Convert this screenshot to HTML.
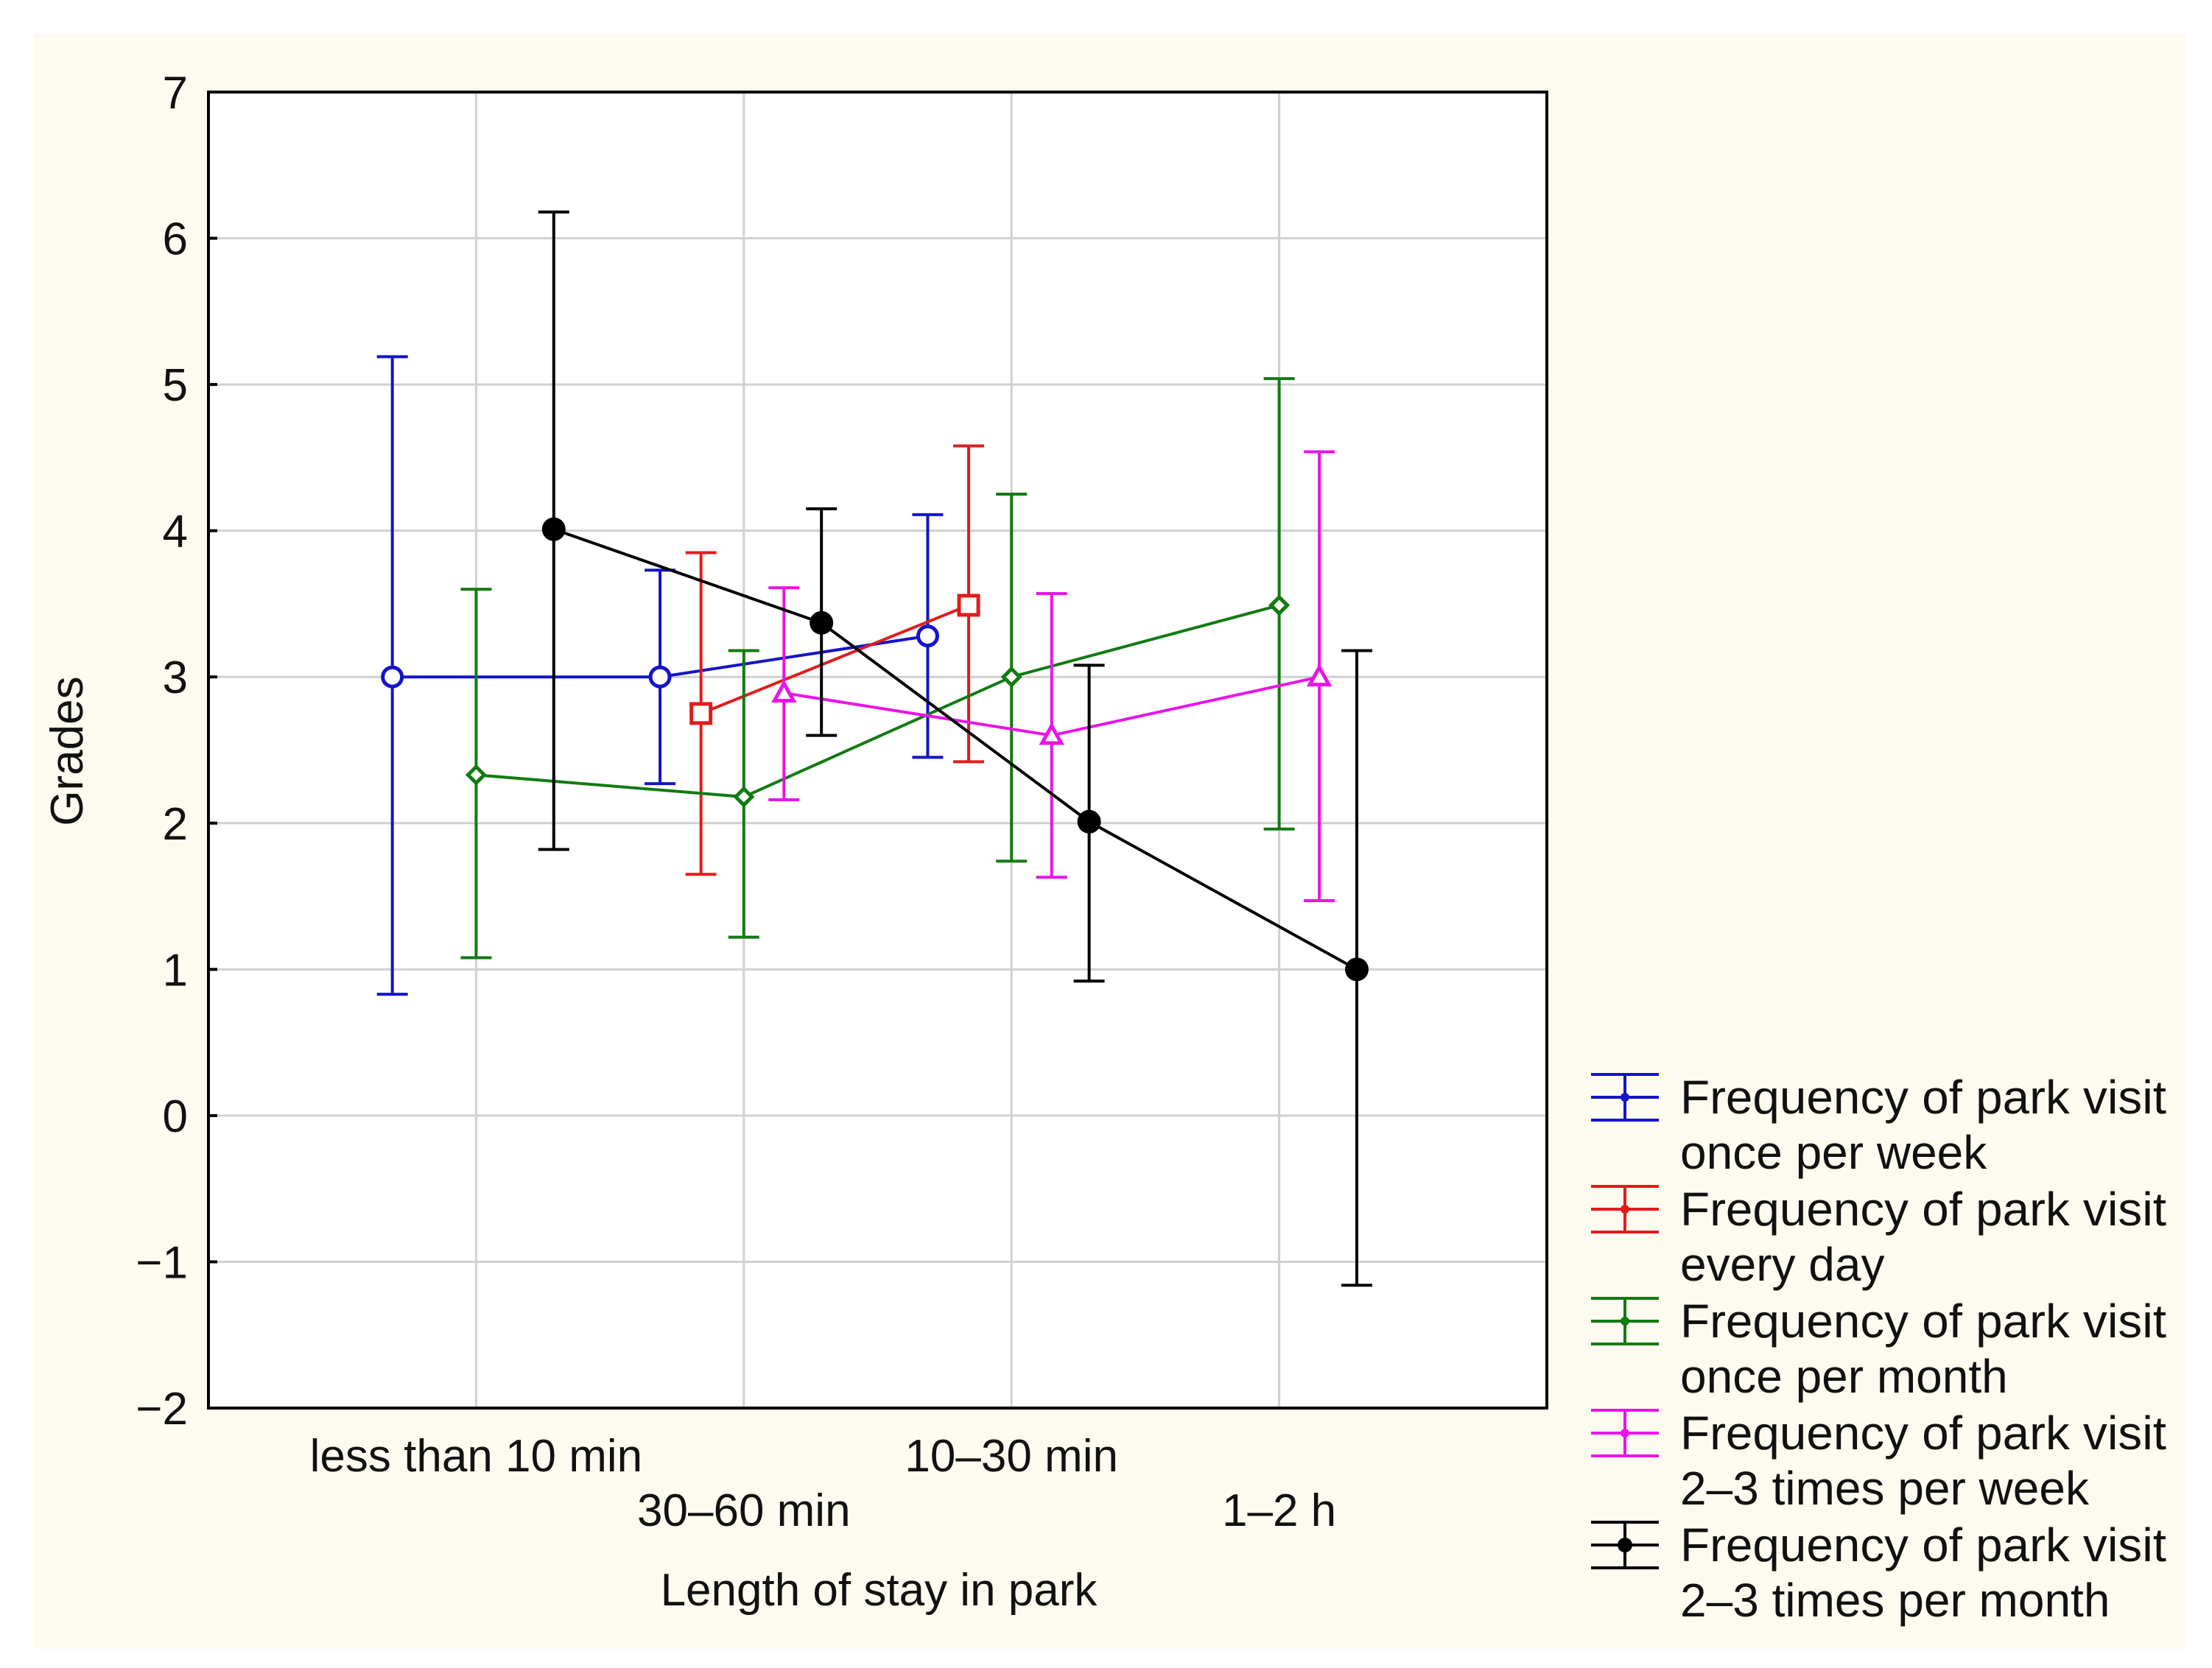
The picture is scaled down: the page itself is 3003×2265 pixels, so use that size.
<!DOCTYPE html>
<html><head><meta charset="utf-8"><style>
html,body{margin:0;padding:0;background:#fff;}
svg{display:block;font-family:"Liberation Sans",sans-serif;}
</style></head><body>
<svg id="chart" width="3003" height="2265" viewBox="0 0 3003 2265">
<rect x="46" y="46" width="2922" height="2193" fill="#fdfbf0"/>
<rect x="283" y="125" width="1817" height="1787" fill="#fff"/>
<g id="grid"></g><g id="series"></g>
<rect x="283" y="125" width="1817" height="1787" fill="none" stroke="#000" stroke-width="4"/>
<g id="axes"></g><g id="legend"></g>
<text x="112" y="1020" font-size="62" text-anchor="middle" transform="rotate(-90 112 1020)" fill="#111">Grades</text>
<text x="1193" y="2180" font-size="62" text-anchor="middle" fill="#111">Length of stay in park</text>
</svg>
<script>
const categories = ["less than 10 min","30–60 min","10–30 min","1–2 h"];
const yTicks = [7,6,5,4,3,2,1,0,-1,-2];
const seriesNames = ["Frequency of park visit|once per week","Frequency of park visit|every day","Frequency of park visit|once per month","Frequency of park visit|2–3 times per week","Frequency of park visit|2–3 times per month"];
const weeklyMean = [3.0,3.0,3.28,null];
const weeklyLow = [0.83,2.27,2.45,null];
const weeklyHigh = [5.19,3.73,4.11,null];
const dailyMean = [null,2.75,3.49,null];
const dailyLow = [null,1.65,2.42,null];
const dailyHigh = [null,3.85,4.58,null];
const monthlyMean = [2.33,2.18,3.0,3.49];
const monthlyLow = [1.08,1.22,1.74,1.96];
const monthlyHigh = [3.6,3.18,4.25,5.04];
const twiceWeekMean = [null,2.89,2.6,3.0];
const twiceWeekLow = [null,2.16,1.63,1.47];
const twiceWeekHigh = [null,3.61,3.57,4.54];
const twiceMonthMean = [4.01,3.37,2.01,1.0];
const twiceMonthLow = [1.82,2.6,0.92,-1.16];
const twiceMonthHigh = [6.18,4.15,3.08,3.18];

const NS="http://www.w3.org/2000/svg";
const L=283,R=2100,T=125,B=1912;
function xs(i,off){return L+(i+1+off)*(R-L)/5;}
function ys(v){return T+(7-v)*(B-T)/9;}
function mk(tag,attrs,parent){const e=document.createElementNS(NS,tag);for(const k in attrs)e.setAttribute(k,attrs[k]);parent.appendChild(e);return e;}
const grid=document.getElementById('grid'),axes=document.getElementById('axes'),ser=document.getElementById('series'),leg=document.getElementById('legend');
yTicks.forEach(v=>{
  if(v<7&&v>-2){const g=mk('line',{x1:L,x2:R,y1:ys(v),y2:ys(v),stroke:'#d0d0d0','stroke-width':3},grid);
  
  }
  const t=mk('text',{x:255,y:ys(v)+22,'font-size':62,'text-anchor':'end',fill:'#111'},axes);
  t.textContent=String(v).replace('-','−');
  
  
  const tk=mk('line',{x1:L,x2:L+12,y1:ys(v),y2:ys(v),stroke:'#000','stroke-width':4},axes);
  
  
});
categories.forEach((c,i)=>{
  const g=mk('line',{x1:xs(i,0),x2:xs(i,0),y1:T,y2:B,stroke:'#d0d0d0','stroke-width':3},grid);
  
  
  const t=mk('text',{x:xs(i,0),y:i%2===0?1998:2072,'font-size':62,'text-anchor':'middle',fill:'#111'},axes);
  t.textContent=c;
  
  
});
const specs=[
 {m:weeklyMean,lo:weeklyLow,hi:weeklyHigh,off:-0.313,col:'#1414c8',mark:'circle'},
 {m:dailyMean,lo:dailyLow,hi:dailyHigh,off:-0.16,col:'#e01c1c',mark:'square'},
 {m:monthlyMean,lo:monthlyLow,hi:monthlyHigh,off:0,col:'#127a12',mark:'diamond'},
 {m:twiceWeekMean,lo:twiceWeekLow,hi:twiceWeekHigh,off:0.15,col:'#e814e8',mark:'triangle'},
 {m:twiceMonthMean,lo:twiceMonthLow,hi:twiceMonthHigh,off:0.29,col:'#000',mark:'dot'}];
function marker(type,x,y,col,p,size){
  let e;
  if(type==='circle')e=mk('circle',{cx:x,cy:y,r:size,fill:'#fff',stroke:col,'stroke-width':5},p);
  else if(type==='square')e=mk('rect',{x:x-size,y:y-size,width:2*size,height:2*size,fill:'#fff',stroke:col,'stroke-width':5},p);
  else if(type==='diamond')e=mk('polygon',{points:`${x},${y-size} ${x+size},${y} ${x},${y+size} ${x-size},${y}`,fill:'#fff',stroke:col,'stroke-width':5},p);
  else if(type==='triangle')e=mk('polygon',{points:`${x},${y-size} ${x+size},${y+size*0.8} ${x-size},${y+size*0.8}`,fill:'#fff',stroke:col,'stroke-width':5},p);
  else e=mk('circle',{cx:x,cy:y,r:size+3,fill:col},p);
  return e;
}
specs.forEach((s,si)=>{
  const g=mk('g',{},ser);
  
  
  const pts=[];
  s.m.forEach((v,i)=>{if(v!==null)pts.push([xs(i,s.off),ys(v)]);});
  const pl=mk('polyline',{points:pts.map(p=>p.join(',')).join(' '),fill:'none',stroke:s.col,'stroke-width':4},g);
  
  
  s.m.forEach((v,i)=>{
    if(v===null)return;
    const x=xs(i,s.off);
    const eb=mk('path',{d:`M${x},${ys(s.lo[i])}V${ys(s.hi[i])}M${x-21},${ys(s.lo[i])}H${x+21}M${x-21},${ys(s.hi[i])}H${x+21}`,stroke:s.col,'stroke-width':4,fill:'none'},g);
    
    
    const mm=marker(s.mark,x,ys(v),s.col,g,s.mark==='diamond'?11:13);
    
    
  });
  const ly=1490+si*152;
  const lg=mk('g',{},leg);
  
  
  mk('path',{d:`M2206,${ly-31}V${ly+31}M2160,${ly-31}H2252M2160,${ly+31}H2252M2160,${ly}H2252`,stroke:s.col,'stroke-width':4,fill:'none'},lg);
  mk('circle',{cx:2206,cy:ly,r:s.mark==='dot'?10:6,fill:s.col},lg);
  const parts=seriesNames[si].split('|');
  const t1=mk('text',{x:2281,y:ly+22,'font-size':64,fill:'#111',textLength:660,lengthAdjust:'spacingAndGlyphs'},lg);
  t1.textContent=parts[0];
  const t2=mk('text',{x:2281,y:ly+97,'font-size':64,fill:'#111'},lg);
  t2.textContent=parts[1];
});
</script>
</body></html>
